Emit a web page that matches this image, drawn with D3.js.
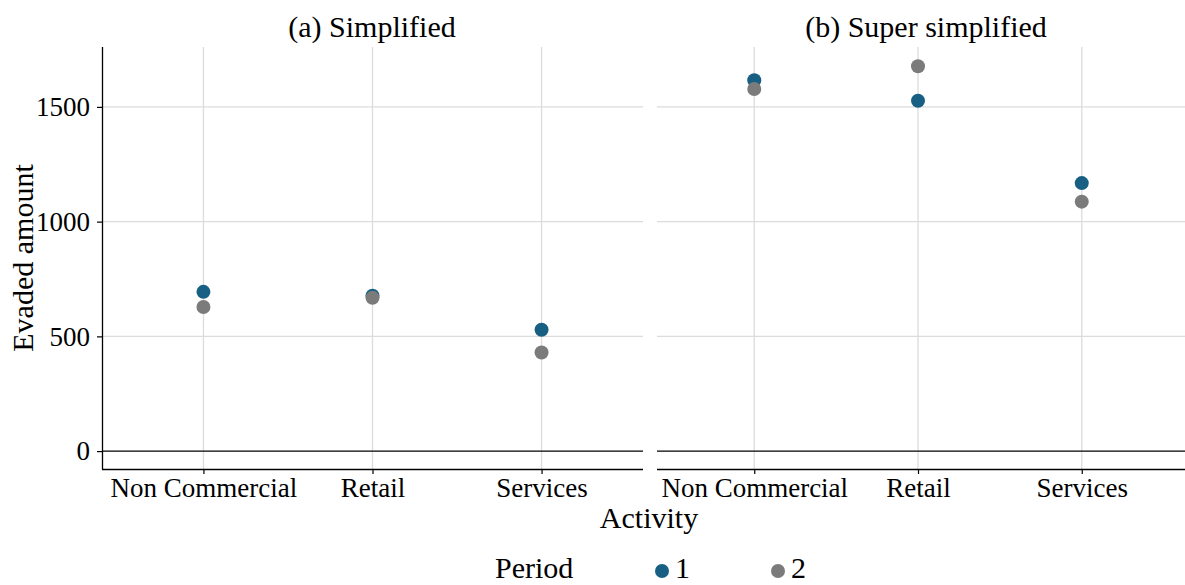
<!DOCTYPE html>
<html>
<head>
<meta charset="utf-8">
<script src="https://cdn.jsdelivr.net/npm/d3@7"></script>
<style>
  html, body { margin: 0; padding: 0; background: #fff; }
  svg text { font-family: "Liberation Serif", "DejaVu Serif", serif; fill: #000; }
</style>
</head>
<body>
<svg id="chart" width="1185" height="585"></svg>
<script>
// Activities on the x axis
const activities = ["Non Commercial", "Retail", "Services"];
// Panels
const panelTitles = ["(a) Simplified", "(b) Super simplified"];
// Periods
const periods = ["1", "2"];
const periodColors = ["#175f83", "#7b7b7b"];
// Evaded amount, one array per panel and period (order follows activities)
const simplifiedP1 = [694, 677, 529];
const simplifiedP2 = [628, 668, 430];
const superP1 = [1616, 1527, 1168];
const superP2 = [1578, 1677, 1087];
// Y axis ticks
const yTicks = [0, 500, 1000, 1500];

const panelValues = [
  [simplifiedP1, simplifiedP2],
  [superP1, superP2]
];

const svg = d3.select("#chart");

const plotTop = 47, plotBottom = 469;
const panels = [
  { x0: 102, x1: 643, lineEnd: 643, yAxis: true, titleX: 372 },
  { x0: 656, x1: 1180, lineEnd: 1185, yAxis: false, titleX: 926 }
];

const y = d3.scaleLinear().domain([-78, 1761]).range([plotBottom, plotTop]);
const tickFont = 27, titleFont = 30;

panels.forEach((p, pi) => {
  const x = d3.scalePoint().domain(activities).range([p.x0, p.x1]).padding(0.6);
  const g = svg.append("g");
  const left = pi === 0 ? p.x0 : p.x0 + 1;

  // grid lines
  g.selectAll(".hgrid").data(yTicks.filter(d => d !== 0)).join("line")
    .attr("x1", left).attr("x2", p.lineEnd)
    .attr("y1", d => y(d)).attr("y2", d => y(d))
    .attr("stroke", "#dcdcdc").attr("stroke-width", 1.3);
  g.selectAll(".vgrid").data(activities).join("line")
    .attr("x1", d => x(d)).attr("x2", d => x(d))
    .attr("y1", plotTop).attr("y2", plotBottom)
    .attr("stroke", "#dcdcdc").attr("stroke-width", 1.3);

  // reference line at zero
  g.append("line")
    .attr("x1", left).attr("x2", p.lineEnd)
    .attr("y1", y(0)).attr("y2", y(0))
    .attr("stroke", "#000").attr("stroke-width", 1.2);

  // x axis
  const xAxis = g.append("g").attr("transform", `translate(0,${plotBottom})`)
    .call(d3.axisBottom(x).tickSize(5).tickSizeOuter(0).tickPadding(5));
  xAxis.select(".domain").attr("d", `M${left},0.5H${p.lineEnd}`).attr("stroke", "#000").attr("stroke-width", 1.3);
  xAxis.selectAll(".tick line").attr("stroke", "#000").attr("stroke-width", 1.2);
  xAxis.selectAll(".tick text")
    .style("font-family", '"Liberation Serif", serif')
    .attr("font-size", tickFont).attr("fill", "#000").attr("dy", "0.66em");

  // y axis (first panel only)
  if (p.yAxis) {
    const yAxis = g.append("g").attr("transform", `translate(${p.x0},0)`)
      .call(d3.axisLeft(y).tickValues(yTicks).tickFormat(d3.format("d"))
        .tickSize(5).tickSizeOuter(0).tickPadding(7));
    yAxis.select(".domain").attr("d", `M0.5,${plotTop}V${plotBottom + 0.5}`).attr("stroke", "#000").attr("stroke-width", 1.3);
    yAxis.selectAll(".tick line").attr("stroke", "#000").attr("stroke-width", 1.2);
    yAxis.selectAll(".tick text")
      .style("font-family", '"Liberation Serif", serif')
      .attr("font-size", tickFont).attr("fill", "#000");
  }

  // points
  const pts = [];
  periods.forEach((per, k) => {
    panelValues[pi][k].forEach((v, i) => pts.push({ act: activities[i], v, k }));
  });
  g.selectAll("circle.pt").data(pts).join("circle")
    .attr("class", "pt")
    .attr("cx", d => x(d.act)).attr("cy", d => y(d.v)).attr("r", 7)
    .attr("fill", d => periodColors[d.k]);

  // panel title
  svg.append("text").attr("x", p.titleX).attr("y", 37)
    .attr("text-anchor", "middle").attr("font-size", titleFont).text(panelTitles[pi]);
});

// axis titles
svg.append("text").attr("x", 649).attr("y", 528)
  .attr("text-anchor", "middle").attr("font-size", titleFont).text("Activity");
svg.append("text").attr("transform", "translate(33,258) rotate(-90)")
  .attr("text-anchor", "middle").attr("font-size", titleFont).text("Evaded amount");

// legend
const legend = svg.append("g");
legend.append("text").attr("x", 495).attr("y", 578).attr("font-size", titleFont).text("Period");
const legendX = d3.scalePoint().domain(periods).range([662, 778]);
periods.forEach((per, k) => {
  legend.append("circle").attr("cx", legendX(per)).attr("cy", 571).attr("r", 7).attr("fill", periodColors[k]);
  legend.append("text").attr("x", legendX(per) + 13).attr("y", 578).attr("font-size", titleFont).text(per);
});
</script>
</body>
</html>
